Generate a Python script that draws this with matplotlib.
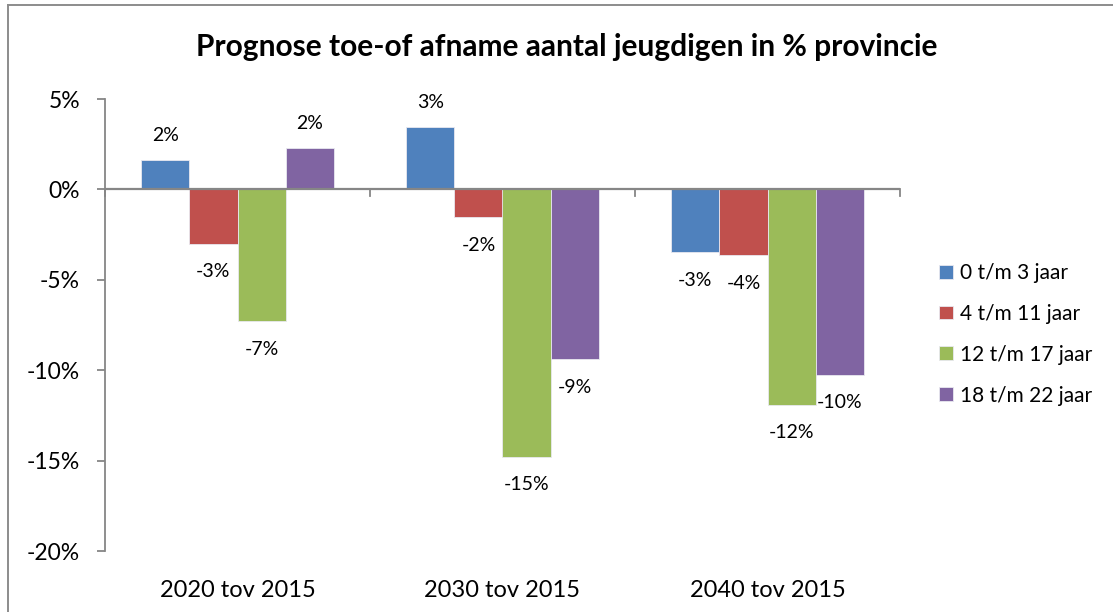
import matplotlib
matplotlib.use("Agg")
import matplotlib.pyplot as plt
import matplotlib.transforms as mtransforms
from matplotlib.lines import Line2D
import numpy as np

categories = ["2020 tov 2015", "2030 tov 2015", "2040 tov 2015"]
series_names = ["0 t/m 3 jaar", "4 t/m 11 jaar", "12 t/m 17 jaar", "18 t/m 22 jaar"]
v_0_3 = [1.6, 3.45, -3.48]
v_4_11 = [-3.0, -1.55, -3.65]
v_12_17 = [-7.3, -14.8, -11.9]
v_18_22 = [2.27, -9.4, -10.25]
series_values = [v_0_3, v_4_11, v_12_17, v_18_22]
colors = ["#4F81BD", "#C0504D", "#9BBB59", "#8064A2"]
yticks = [5, 0, -5, -10, -15, -20]
title = "Prognose toe-of afname aantal jeugdigen in % provincie"

plt.rcParams['font.family'] = ['Lato', 'DejaVu Sans']
W, H = 1113, 612
fig = plt.figure(figsize=(W / 100, H / 100), dpi=100)
fig.patch.set_facecolor("white")

# outer chart border (only top/left visible)
border_col = "#8c8c8c"
fig.add_artist(Line2D([8 / W, 8 / W], [0, 1 - 5 / H], transform=fig.transFigure,
                      color=border_col, linewidth=1.4))
fig.add_artist(Line2D([8 / W, 1], [1 - 5 / H, 1 - 5 / H], transform=fig.transFigure,
                      color=border_col, linewidth=1.4))

ax = fig.add_axes([105 / W, 1 - 551 / H, (900 - 105) / W, (551 - 99) / H])
axis_col = "#868686"

n = len(series_names)
w = 1 / 5.5
x = np.arange(len(categories))
for i, (name, vals, c) in enumerate(zip(series_names, series_values, colors)):
    pos = x + (i - (n - 1) / 2) * w
    ax.bar(pos, vals, width=w, color=c, label=name, edgecolor="#e8e8f0", linewidth=0.6, zorder=2)
    for px, v in zip(pos, vals):
        off = 25 if v >= 0 else -28
        ax.annotate(f"{round(v):d}%", (px, v), xytext=(0, off * 0.72), textcoords="offset points",
                    ha="center", va="center", fontsize=14, color="black")

ax.set_xlim(-0.5, len(categories) - 0.5)
ax.set_ylim(-20, 5)
for s in ["top", "right", "bottom"]:
    ax.spines[s].set_visible(False)
ax.spines["left"].set_color(axis_col)
ax.spines["left"].set_linewidth(1.3)
ax.axhline(0, color=axis_col, linewidth=1.6, zorder=3)

ax.set_yticks(yticks)
ax.set_yticklabels([f"{t}%" for t in yticks])
ax.tick_params(axis="y", direction="out", length=6, width=1.3, color=axis_col,
               labelsize=16.5, pad=12)
ax.set_xticks([])

# category boundary ticks on zero line
bounds = np.arange(len(categories) + 1) - 0.5
for b in bounds:
    ax.plot([b, b], [0, -0.35], color=axis_col, linewidth=1.3, zorder=3, clip_on=False)

trans = mtransforms.blended_transform_factory(ax.transData, ax.transAxes)
for xi, cat in zip(x, categories):
    ax.text(xi, -0.088, cat, transform=trans, ha="center", va="center", fontsize=17)

fig.text(567 / W, 1 - 47 / H, title, ha="center", va="center", fontsize=21.5, fontweight="bold")

leg = ax.legend(loc="upper left", bbox_to_anchor=(939 / W, 1 - 263 / H), bbox_transform=fig.transFigure,
                frameon=False, fontsize=15, handlelength=0.65, handleheight=0.65,
                handletextpad=0.35, labelspacing=1.0, borderaxespad=0, borderpad=0)

fig.savefig("out.png", dpi=100, facecolor="white")
